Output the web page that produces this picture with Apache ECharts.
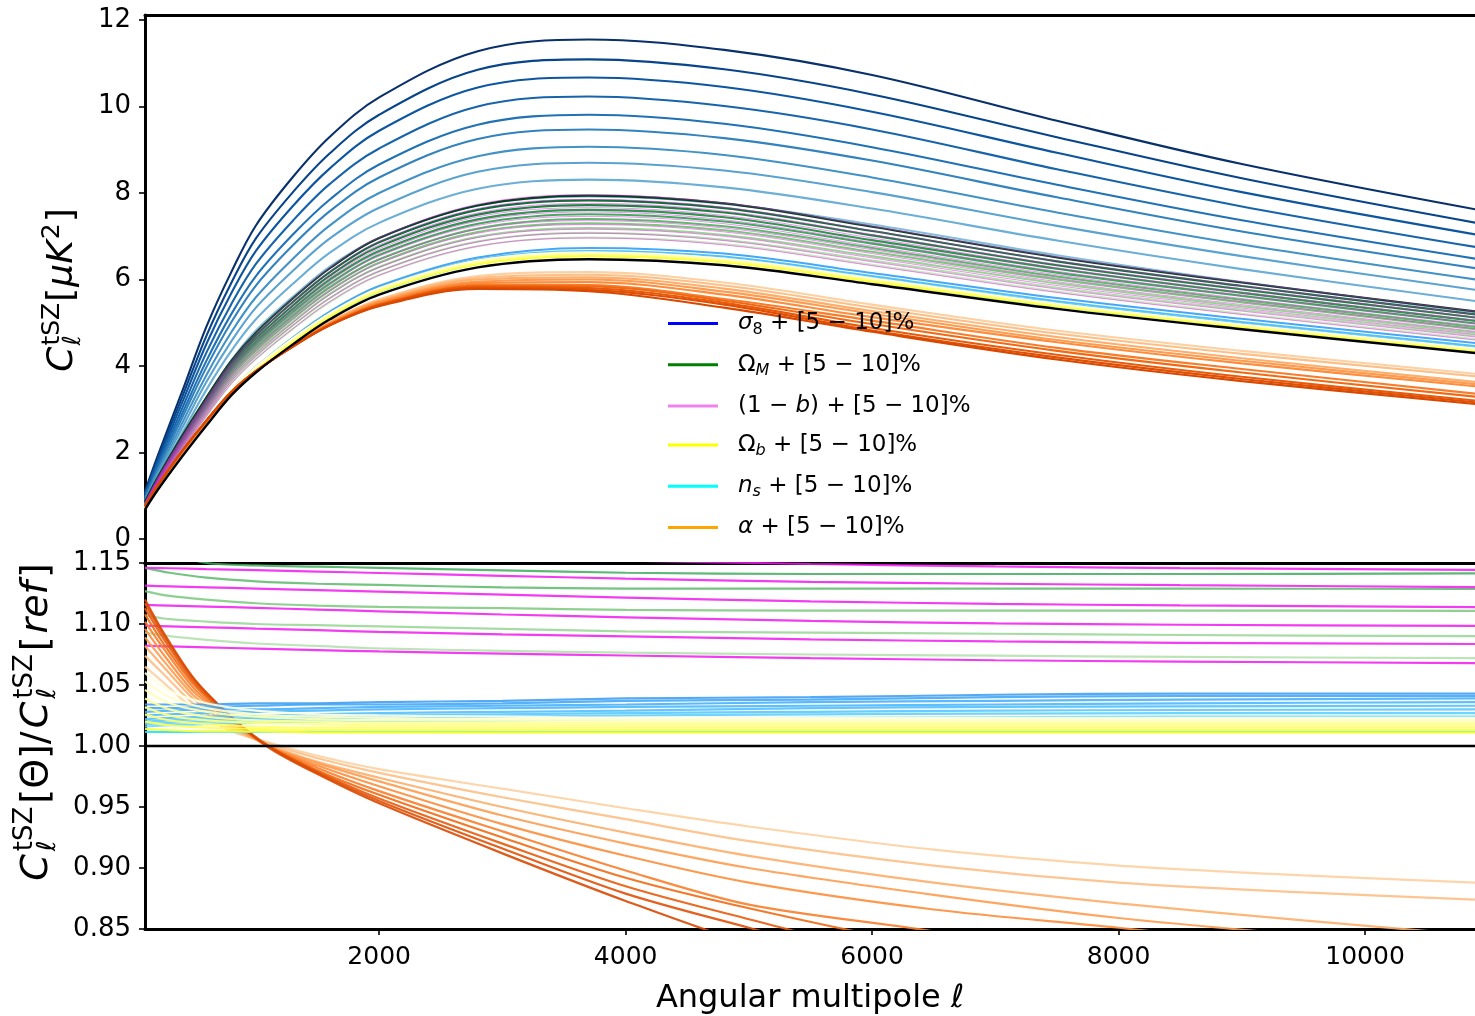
<!DOCTYPE html>
<html><head><meta charset="utf-8">
<script src="https://cdn.jsdelivr.net/npm/echarts@6/dist/echarts.min.js"></script>
<style>html,body{margin:0;padding:0;background:#fff}#c{width:1475px;height:1016px}</style>
</head><body><div id="c"></div>
<script>
// ---------- DATA ----------
// Upper panel: C_l^tSZ [muK^2]
const ELL_TOP = [100, 200, 400, 600, 800, 1000, 1300, 1600, 2000, 2800, 3700, 4800, 6000, 7500, 9000, 10900];
const REF_TOP = [0.68, 1.12, 1.90, 2.63, 3.32, 3.85, 4.50, 5.08, 5.65, 6.28, 6.47, 6.33, 5.89, 5.32, 4.85, 4.30];
const SIGMA8_TOP = [
  [1.10, 1.90, 3.40, 4.92, 6.17, 7.25, 8.37, 9.30, 10.21, 11.28, 11.55, 11.31, 10.73, 9.67, 8.67, 7.62],
  [1.06, 1.83, 3.27, 4.71, 5.92, 6.95, 8.02, 8.92, 9.81, 10.85, 11.09, 10.86, 10.28, 9.29, 8.34, 7.31],
  [1.03, 1.77, 3.14, 4.52, 5.68, 6.66, 7.70, 8.57, 9.44, 10.44, 10.67, 10.45, 9.88, 8.93, 8.02, 7.04],
  [0.99, 1.70, 3.01, 4.32, 5.43, 6.36, 7.36, 8.21, 9.03, 10.00, 10.23, 10.01, 9.47, 8.55, 7.69, 6.75],
  [0.96, 1.64, 2.89, 4.13, 5.20, 6.08, 7.04, 7.85, 8.66, 9.58, 9.81, 9.60, 9.06, 8.19, 7.37, 6.48],
  [0.93, 1.58, 2.79, 3.98, 5.01, 5.86, 6.79, 7.58, 8.36, 9.25, 9.47, 9.27, 8.75, 7.90, 7.11, 6.26],
  [0.90, 1.52, 2.67, 3.80, 4.78, 5.59, 6.48, 7.25, 8.00, 8.85, 9.07, 8.88, 8.36, 7.55, 6.81, 6.00],
  [0.87, 1.47, 2.56, 3.64, 4.57, 5.35, 6.20, 6.95, 7.66, 8.49, 8.70, 8.52, 8.02, 7.24, 6.54, 5.76],
  [0.83, 1.40, 2.44, 3.46, 4.35, 5.08, 5.90, 6.62, 7.31, 8.10, 8.31, 8.13, 7.64, 6.90, 6.24, 5.50],
  [0.80, 1.34, 2.33, 3.28, 4.13, 4.82, 5.60, 6.30, 6.96, 7.71, 7.92, 7.75, 7.27, 6.56, 5.94, 5.24]
];
const OMEGAM_TOP = [
  [0.74, 1.22, 2.07, 2.86, 3.60, 4.17, 4.86, 5.48, 6.10, 6.77, 6.97, 6.82, 6.34, 5.72, 5.21, 4.62],
  [0.76, 1.24, 2.10, 2.90, 3.66, 4.24, 4.94, 5.57, 6.19, 6.88, 7.08, 6.92, 6.44, 5.81, 5.30, 4.70],
  [0.77, 1.27, 2.14, 2.95, 3.72, 4.31, 5.02, 5.67, 6.29, 6.99, 7.19, 7.03, 6.54, 5.91, 5.38, 4.77],
  [0.78, 1.29, 2.17, 3.00, 3.78, 4.37, 5.10, 5.75, 6.39, 7.10, 7.30, 7.14, 6.64, 6.00, 5.47, 4.85],
  [0.79, 1.31, 2.20, 3.04, 3.83, 4.43, 5.17, 5.83, 6.47, 7.18, 7.40, 7.23, 6.73, 6.07, 5.53, 4.90],
  [0.81, 1.33, 2.24, 3.09, 3.89, 4.50, 5.25, 5.91, 6.57, 7.29, 7.51, 7.34, 6.83, 6.16, 5.62, 4.98],
  [0.82, 1.35, 2.27, 3.13, 3.94, 4.56, 5.32, 6.00, 6.66, 7.39, 7.61, 7.44, 6.91, 6.25, 5.69, 5.04],
  [0.83, 1.37, 2.31, 3.18, 4.00, 4.63, 5.40, 6.09, 6.76, 7.50, 7.72, 7.55, 7.02, 6.33, 5.77, 5.12],
  [0.85, 1.39, 2.34, 3.23, 4.06, 4.70, 5.48, 6.17, 6.86, 7.61, 7.83, 7.65, 7.12, 6.42, 5.85, 5.19],
  [0.86, 1.41, 2.38, 3.28, 4.12, 4.77, 5.56, 6.26, 6.96, 7.71, 7.94, 7.76, 7.22, 6.51, 5.93, 5.26]
];
const ONEMB_TOP = [
  [0.74, 1.21, 2.06, 2.85, 3.59, 4.16, 4.86, 5.49, 6.10, 6.77, 6.96, 6.80, 6.32, 5.70, 5.19, 4.60],
  [0.75, 1.23, 2.09, 2.89, 3.65, 4.23, 4.94, 5.57, 6.19, 6.87, 7.07, 6.90, 6.41, 5.78, 5.27, 4.67],
  [0.76, 1.25, 2.12, 2.93, 3.70, 4.28, 5.00, 5.65, 6.28, 6.97, 7.16, 7.00, 6.50, 5.86, 5.34, 4.73],
  [0.77, 1.27, 2.15, 2.97, 3.75, 4.35, 5.08, 5.73, 6.37, 7.07, 7.27, 7.10, 6.60, 5.95, 5.42, 4.80],
  [0.78, 1.28, 2.18, 3.01, 3.80, 4.40, 5.14, 5.80, 6.45, 7.16, 7.36, 7.19, 6.69, 6.03, 5.49, 4.86],
  [0.79, 1.30, 2.20, 3.05, 3.85, 4.46, 5.21, 5.88, 6.54, 7.25, 7.46, 7.29, 6.77, 6.11, 5.56, 4.93],
  [0.80, 1.32, 2.23, 3.09, 3.90, 4.52, 5.28, 5.96, 6.62, 7.35, 7.56, 7.38, 6.86, 6.19, 5.64, 4.99],
  [0.81, 1.33, 2.26, 3.13, 3.95, 4.58, 5.35, 6.04, 6.71, 7.45, 7.66, 7.48, 6.96, 6.27, 5.71, 5.06],
  [0.82, 1.35, 2.29, 3.17, 4.00, 4.64, 5.42, 6.11, 6.80, 7.54, 7.76, 7.58, 7.04, 6.35, 5.79, 5.13],
  [0.83, 1.37, 2.32, 3.21, 4.05, 4.70, 5.49, 6.19, 6.88, 7.64, 7.85, 7.67, 7.13, 6.43, 5.86, 5.19],
  [0.84, 1.39, 2.35, 3.25, 4.10, 4.76, 5.56, 6.27, 6.97, 7.74, 7.96, 7.77, 7.23, 6.52, 5.94, 5.26]
];
const NS_TOP = [
  [0.69, 1.13, 1.92, 2.66, 3.36, 3.90, 4.55, 5.14, 5.72, 6.36, 6.55, 6.41, 5.96, 5.38, 4.91, 4.35],
  [0.69, 1.14, 1.94, 2.68, 3.39, 3.93, 4.59, 5.19, 5.77, 6.42, 6.62, 6.48, 6.04, 5.46, 4.98, 4.42],
  [0.70, 1.15, 1.95, 2.70, 3.41, 3.95, 4.62, 5.22, 5.81, 6.46, 6.66, 6.53, 6.08, 5.50, 5.02, 4.46],
  [0.70, 1.16, 1.96, 2.72, 3.43, 3.98, 4.66, 5.26, 5.85, 6.51, 6.73, 6.60, 6.15, 5.57, 5.09, 4.53]
];
const OMEGAB_TOP = [
  [0.69, 1.14, 1.93, 2.66, 3.36, 3.90, 4.55, 5.14, 5.72, 6.35, 6.54, 6.40, 5.95, 5.38, 4.90, 4.35],
  [0.70, 1.15, 1.95, 2.69, 3.39, 3.92, 4.58, 5.17, 5.75, 6.38, 6.57, 6.43, 5.98, 5.41, 4.93, 4.37],
  [0.71, 1.16, 1.97, 2.71, 3.41, 3.95, 4.61, 5.20, 5.77, 6.41, 6.60, 6.46, 6.01, 5.43, 4.95, 4.39],
  [0.72, 1.18, 1.99, 2.74, 3.44, 3.98, 4.64, 5.22, 5.80, 6.44, 6.63, 6.48, 6.03, 5.44, 4.96, 4.40]
];
const ALPHA_TOP = [
  [0.72, 1.18, 1.97, 2.69, 3.36, 3.87, 4.48, 5.03, 5.54, 6.08, 6.17, 5.93, 5.42, 4.82, 4.35, 3.82],
  [0.73, 1.19, 1.98, 2.70, 3.37, 3.87, 4.48, 5.02, 5.53, 6.04, 6.11, 5.86, 5.35, 4.75, 4.28, 3.76],
  [0.74, 1.20, 1.99, 2.71, 3.37, 3.87, 4.47, 5.00, 5.50, 6.00, 6.05, 5.79, 5.27, 4.67, 4.18, 3.63],
  [0.74, 1.21, 2.00, 2.72, 3.38, 3.87, 4.47, 4.99, 5.49, 5.95, 6.00, 5.72, 5.21, 4.60, 4.12, 3.58],
  [0.75, 1.21, 2.01, 2.72, 3.39, 3.88, 4.46, 4.98, 5.46, 5.92, 5.94, 5.65, 5.13, 4.55, 4.06, 3.53],
  [0.75, 1.22, 2.01, 2.73, 3.39, 3.88, 4.46, 4.97, 5.44, 5.88, 5.87, 5.55, 5.05, 4.42, 3.93, 3.36],
  [0.75, 1.22, 2.02, 2.74, 3.39, 3.88, 4.46, 4.96, 5.42, 5.85, 5.84, 5.51, 4.97, 4.35, 3.85, 3.29],
  [0.76, 1.23, 2.03, 2.74, 3.40, 3.88, 4.45, 4.95, 5.41, 5.83, 5.80, 5.46, 4.88, 4.26, 3.75, 3.20],
  [0.76, 1.23, 2.03, 2.75, 3.40, 3.88, 4.45, 4.94, 5.40, 5.80, 5.76, 5.42, 4.82, 4.20, 3.70, 3.16],
  [0.76, 1.23, 2.03, 2.75, 3.40, 3.88, 4.45, 4.94, 5.38, 5.78, 5.73, 5.35, 4.79, 4.15, 3.65, 3.12]
];

// Lower panel: ratio C_l[Theta] / C_l[ref]
const ELL_RATIO = [100, 300, 600, 1000, 1500, 2000, 3000, 4000, 5500, 7000, 8500, 10900];
const OMEGAM_RATIO = [
  [1.165, 1.158, 1.150, 1.148, 1.147, 1.146, 1.144, 1.142, 1.141, 1.141, 1.141, 1.1415],
  [1.146, 1.142, 1.138, 1.135, 1.133, 1.132, 1.130, 1.129, 1.129, 1.129, 1.129, 1.1287],
  [1.127, 1.123, 1.120, 1.117, 1.115, 1.114, 1.113, 1.1115, 1.111, 1.111, 1.111, 1.1107],
  [1.107, 1.104, 1.102, 1.100, 1.099, 1.098, 1.096, 1.094, 1.093, 1.092, 1.091, 1.090],
  [1.093, 1.090, 1.087, 1.084, 1.082, 1.080, 1.078, 1.0765, 1.075, 1.074, 1.073, 1.072]
];
const ONEMB_RATIO = [
  [1.1610, 1.1605, 1.1598, 1.1589, 1.1578, 1.1566, 1.1543, 1.1520, 1.1492, 1.1472, 1.1458, 1.1443],
  [1.1461, 1.1457, 1.1450, 1.1441, 1.1430, 1.1418, 1.1395, 1.1372, 1.1345, 1.1330, 1.1318, 1.1303],
  [1.1314, 1.1309, 1.1301, 1.1290, 1.1278, 1.1265, 1.1240, 1.1216, 1.1185, 1.1165, 1.1152, 1.1139],
  [1.1156, 1.1151, 1.1143, 1.1132, 1.1118, 1.1104, 1.1078, 1.1055, 1.1025, 1.1005, 1.0994, 1.0984],
  [1.0986, 1.0981, 1.0973, 1.0962, 1.0949, 1.0936, 1.0915, 1.0898, 1.0874, 1.0857, 1.0846, 1.0836],
  [1.0822, 1.0817, 1.0809, 1.0798, 1.0786, 1.0775, 1.0757, 1.0742, 1.0720, 1.0703, 1.0692, 1.0680]
];
const NS_RATIO = [
  [1.0115, 1.0115, 1.0115, 1.0115, 1.0115, 1.0115, 1.0115, 1.0115, 1.0115, 1.0115, 1.0115, 1.0115],
  [1.016, 1.017, 1.018, 1.019, 1.020, 1.0205, 1.021, 1.022, 1.023, 1.0235, 1.024, 1.024],
  [1.018, 1.019, 1.020, 1.021, 1.022, 1.023, 1.024, 1.025, 1.026, 1.0265, 1.027, 1.027],
  [1.020, 1.021, 1.022, 1.023, 1.024, 1.025, 1.026, 1.027, 1.028, 1.029, 1.0295, 1.030],
  [1.022, 1.023, 1.024, 1.025, 1.026, 1.027, 1.028, 1.029, 1.031, 1.032, 1.0325, 1.033],
  [1.025, 1.026, 1.027, 1.028, 1.029, 1.030, 1.031, 1.032, 1.033, 1.034, 1.035, 1.036],
  [1.028, 1.029, 1.030, 1.030, 1.031, 1.032, 1.033, 1.034, 1.036, 1.037, 1.038, 1.039],
  [1.031, 1.031, 1.032, 1.033, 1.034, 1.034, 1.035, 1.037, 1.038, 1.040, 1.041, 1.041],
  [1.034, 1.034, 1.034, 1.035, 1.035, 1.036, 1.037, 1.039, 1.040, 1.042, 1.043, 1.043]
];
const OMEGAB_RATIO = [
  [1.014, 1.013, 1.012, 1.012, 1.011, 1.011, 1.011, 1.011, 1.011, 1.011, 1.011, 1.011],
  [1.020, 1.017, 1.015, 1.014, 1.013, 1.013, 1.013, 1.013, 1.013, 1.013, 1.013, 1.013],
  [1.026, 1.021, 1.018, 1.016, 1.015, 1.015, 1.015, 1.015, 1.015, 1.015, 1.015, 1.015],
  [1.032, 1.025, 1.021, 1.019, 1.018, 1.017, 1.017, 1.017, 1.017, 1.017, 1.017, 1.017],
  [1.039, 1.030, 1.024, 1.021, 1.020, 1.019, 1.019, 1.019, 1.019, 1.019, 1.019, 1.019],
  [1.046, 1.035, 1.028, 1.024, 1.022, 1.021, 1.021, 1.021, 1.021, 1.021, 1.021, 1.021],
  [1.053, 1.040, 1.031, 1.026, 1.024, 1.023, 1.022, 1.022, 1.022, 1.022, 1.022, 1.022],
  [1.060, 1.045, 1.035, 1.029, 1.026, 1.025, 1.024, 1.023, 1.023, 1.023, 1.023, 1.023]
];
const ELL_ALPHA = [100, 250, 500, 800, 1100, 1500, 2000, 3000, 4000, 5000, 6500, 8000, 9500, 10900];
const ALPHA_RATIO = [
  [1.065, 1.052, 1.030, 1.012, 1.003, 0.992, 0.981, 0.965, 0.949, 0.934, 0.915, 0.902, 0.894, 0.888],
  [1.074, 1.059, 1.034, 1.014, 1.002, 0.990, 0.978, 0.958, 0.940, 0.922, 0.902, 0.888, 0.880, 0.874],
  [1.082, 1.065, 1.038, 1.016, 1.001, 0.987, 0.974, 0.950, 0.929, 0.910, 0.888, 0.871, 0.857, 0.845],
  [1.089, 1.070, 1.041, 1.018, 1.000, 0.986, 0.971, 0.943, 0.920, 0.900, 0.878, 0.859, 0.845, 0.833],
  [1.096, 1.075, 1.044, 1.020, 1.000, 0.984, 0.967, 0.936, 0.910, 0.888, 0.866, 0.851, 0.835, 0.822],
  [1.102, 1.080, 1.047, 1.021, 1.000, 0.982, 0.963, 0.930, 0.898, 0.870, 0.848, 0.822, 0.800, 0.782],
  [1.108, 1.084, 1.050, 1.022, 1.000, 0.980, 0.960, 0.925, 0.892, 0.867, 0.835, 0.808, 0.785, 0.765],
  [1.113, 1.088, 1.052, 1.023, 1.000, 0.979, 0.957, 0.920, 0.885, 0.858, 0.820, 0.790, 0.765, 0.745],
  [1.117, 1.091, 1.054, 1.024, 1.000, 0.978, 0.955, 0.916, 0.879, 0.851, 0.810, 0.780, 0.755, 0.735],
  [1.120, 1.093, 1.055, 1.024, 0.999, 0.977, 0.953, 0.912, 0.873, 0.838, 0.800, 0.770, 0.745, 0.725]
];
const REF_RATIO = [1.0, 1.0];
const ELL_REF_RATIO = [100, 10900];

const TOP_Y_TICKS = [0, 2, 4, 6, 8, 10, 12];
const X_TICKS = [2000, 4000, 6000, 8000, 10000];
const LEGEND_NAMES = ['s8', 'omM', 'onemb', 'omb', 'ns', 'alpha'];

// ---------- STYLE ----------
const C_SIGMA8 = ['#08306b','#08448a','#0d559f','#1764ab','#2171b5','#3282be','#4292c6','#5aa2cf','#6baed6','#85bcdc'];
const C_OMM_TOP = ['#c7e9c0','#b0dfaa','#98d594','#7bc87c','#5db96b','#41ab5d','#2e964d','#1d843f','#0b7134','#00441b'];
const C_OMM_RAT = ['#41ab5d','#5db96b','#7bc87c','#98d594','#b0dfaa'];
const C_ALPHA = ['#fdd0a2','#fdbf86','#fdae6b','#fd9c51','#fd8d3c','#f87d2b','#f16913','#e85b0b','#df5005','#d94801'];
const C_NS_TOP = ['#22e0ff','#5fd0ff','#52c0ff','#45a8f7'];
const C_NS_RAT = ['#22e0ff','#66d9ff','#5fd0ff','#58c8ff','#52c0ff','#4cb8ff','#48b0fb','#45a8f7','#42a0f3'];
const C_OMB_TOP = ['#ffff33','#ffff66','#ffffa0','#ffffd0'];
const C_OMB_RAT = ['#ffff33','#ffff4d','#ffff66','#ffff80','#ffff99','#ffffb3','#ffffcc','#ffffe0'];
const C_MAG = '#ee1aee';
const FONT = 'DejaVu Sans';

const series = [];
function pts(xs, ys) { return xs.map((x, i) => [x, ys[i]]); }
function addLines(arr, xs, colors, width, panel, opacity, tag, smooth) {
  arr.forEach((ys, i) => series.push({
    type: 'line', name: tag + i, data: pts(xs, ys),
    xAxisIndex: panel === 0 ? 0 : 2, yAxisIndex: panel,
    symbol: 'none', showSymbol: false, smooth: smooth,
    silent: true, clip: true,
    lineStyle: { color: Array.isArray(colors) ? colors[i] : colors, width: width, opacity: opacity }
  }));
}
const ST = 0.35, SB = 0.3;
// upper panel
addLines(SIGMA8_TOP, ELL_TOP, C_SIGMA8, 2.1, 0, 1, 'sig8_', ST);
addLines(OMEGAM_TOP, ELL_TOP, C_OMM_TOP, 2.1, 0, 1, 'omm_', ST);
addLines(ONEMB_TOP, ELL_TOP, C_MAG, 1.0, 0, 0.5, 'onemb_', ST);
addLines(NS_TOP, ELL_TOP, C_NS_TOP, 2.0, 0, 1, 'ns_', ST);
addLines(OMEGAB_TOP, ELL_TOP, C_OMB_TOP, 2.0, 0, 1, 'omb_', ST);
addLines(ALPHA_TOP, ELL_TOP, C_ALPHA, 2.1, 0, 1, 'alp_', ST);
addLines([REF_TOP], ELL_TOP, '#000000', 2.4, 0, 1, 'ref_', ST);
// lower panel
addLines(OMEGAM_RATIO, ELL_RATIO, C_OMM_RAT, 2.2, 1, 0.85, 'rOmm_', SB);
addLines(ONEMB_RATIO, ELL_RATIO, C_MAG, 2.2, 1, 0.85, 'rOnemb_', SB);
addLines(ALPHA_RATIO, ELL_ALPHA, C_ALPHA, 2.2, 1, 0.9, 'rAlp_', SB);
addLines(NS_RATIO, ELL_RATIO, C_NS_RAT, 2.2, 1, 0.9, 'rNs_', SB);
addLines(OMEGAB_RATIO, ELL_RATIO, C_OMB_RAT, 2.2, 1, 0.9, 'rOmb_', SB);
addLines([REF_RATIO], ELL_REF_RATIO, '#000000', 2.4, 1, 1, 'rRef_', false);

// legend proxies
const LEG_COLORS = ['#0000ff', '#008000', '#ee82ee', '#ffff00', '#00ffff', '#ffa500'];
LEGEND_NAMES.forEach((n, i) => series.push({
  type: 'line', name: n, data: [], xAxisIndex: 0, yAxisIndex: 0,
  itemStyle: { color: LEG_COLORS[i] }, lineStyle: { color: LEG_COLORS[i] }
}));
const LEG_TEXT = {
  s8: '{sp| }{it|σ}{sub|8}{r| + [5 − 10]%}',
  omM: '{sp| }{r|Ω}{subi|M}{r| + [5 − 10]%}',
  onemb: '{sp| }{r|(1 − }{it|b}{r|) + [5 − 10]%}',
  omb: '{sp| }{r|Ω}{subi|b}{r| + [5 − 10]%}',
  ns: '{sp| }{it|n}{subi|s}{r| + [5 − 10]%}',
  alpha: '{sp| }{it|α}{r| + [5 − 10]%}'
};

// math-like axis titles
const mctx = document.createElement('canvas').getContext('2d');
function tw(t, s, it) { mctx.font = (it ? 'italic ' : '') + s + 'px "' + FONT + '"'; return mctx.measureText(t).width; }
function mathLabel(cx, cy, pieces, gap) {
  let cur = 0, prevX = 0; const kids = [];
  pieces.forEach(p => {
    const w = tw(p.t, p.s, p.i);
    const x = p.stack ? prevX : cur;
    kids.push({ x: x, y: p.dy || 0, t: p.t, s: p.s, i: p.i });
    if (p.stack) cur = Math.max(cur, x + w + gap); else { prevX = x; cur = x + w + gap; }
  });
  const L = cur - gap;
  return {
    type: 'group', x: cx, y: cy + L / 2, rotation: Math.PI / 2, silent: true,
    children: kids.map(k => ({
      type: 'text', x: k.x, y: k.y,
      style: { text: k.t, fontSize: k.s, fontFamily: FONT, fontStyle: k.i ? 'italic' : 'normal',
               fill: '#000', align: 'left', verticalAlign: 'middle', textAlign: 'left', textVerticalAlign: 'middle' }
    }))
  };
}
const BIG = 36, SM = 25;
const topTitle = mathLabel(63, 290, [
  { t: 'C', s: BIG, i: true }, { t: 'tSZ', s: SM, dy: -11 }, { t: 'ℓ', s: SM, i: true, dy: 10, stack: true },
  { t: '[', s: BIG }, { t: 'μK', s: BIG, i: true }, { t: '2', s: SM, dy: -11 }, { t: ']', s: BIG }
], 1);
const botTitle = mathLabel(37, 722, [
  { t: 'C', s: 38, i: true }, { t: 'tSZ', s: 26, dy: -12 }, { t: 'ℓ', s: 26, i: true, dy: 11, stack: true },
  { t: '[Θ]/', s: 38 }, { t: 'C', s: 38, i: true }, { t: 'tSZ', s: 26, dy: -12 }, { t: 'ℓ', s: 26, i: true, dy: 11, stack: true },
  { t: '[', s: 38 }, { t: 'ref', s: 38, i: true }, { t: ']', s: 38 }
], 3);

const axLine = { show: true, onZero: false, lineStyle: { color: '#000', width: 3 } };
const XMIN = 100, XMAX = 10892;

const option = {
  animation: false,
  backgroundColor: '#ffffff',
  grid: [
    { left: 145, top: 15, right: 0, height: 548 },
    { left: 145, top: 563, right: 0, height: 366 }
  ],
  xAxis: [
    { type: 'value', gridIndex: 0, min: XMIN, max: XMAX, position: 'bottom', axisLine: axLine,
      axisTick: { show: false }, axisLabel: { show: false }, splitLine: { show: false } },
    { type: 'value', gridIndex: 0, min: XMIN, max: XMAX, position: 'top', axisLine: axLine,
      axisTick: { show: false }, axisLabel: { show: false }, splitLine: { show: false } },
    { type: 'value', gridIndex: 1, min: XMIN, max: XMAX, position: 'bottom', axisLine: axLine,
      axisTick: { show: true, length: 6, lineStyle: { color: '#000', width: 1.6 }, customValues: X_TICKS },
      axisLabel: { margin: 16, customValues: X_TICKS, formatter: v => String(v), fontFamily: FONT, fontSize: 25, color: '#000' },
      splitLine: { show: false },
      name: 'Angular multipole {l|ℓ}', nameLocation: 'middle', nameGap: 54,
      nameTextStyle: { fontFamily: FONT, fontSize: 32, color: '#000', rich: { l: { fontFamily: FONT, fontSize: 32, fontStyle: 'italic', color: '#000' } } } },
    { type: 'value', gridIndex: 1, min: XMIN, max: XMAX, position: 'top', axisLine: axLine,
      axisTick: { show: false }, axisLabel: { show: false }, splitLine: { show: false } }
  ],
  yAxis: [
    { type: 'value', gridIndex: 0, min: -0.555, max: 12.116, axisLine: axLine,
      axisTick: { show: true, length: 6, lineStyle: { color: '#000', width: 1.6 }, customValues: TOP_Y_TICKS },
      axisLabel: { margin: 14, customValues: TOP_Y_TICKS, formatter: v => String(v), fontFamily: FONT, fontSize: 26, color: '#000' },
      splitLine: { show: false } },
    { type: 'value', gridIndex: 1, min: 0.85, max: 1.15, interval: 0.05, axisLine: axLine,
      axisTick: { show: true, length: 6, lineStyle: { color: '#000', width: 1.6 } },
      axisLabel: { margin: 14, formatter: v => v.toFixed(2), fontFamily: FONT, fontSize: 26, color: '#000' },
      splitLine: { show: false } }
  ],
  legend: {
    data: LEGEND_NAMES, orient: 'vertical', left: 668, top: 312, padding: 0,
    icon: 'rect', itemWidth: 50, itemHeight: 3, itemGap: 15.8, selectedMode: false,
    formatter: n => LEG_TEXT[n],
    textStyle: {
      fontFamily: FONT, fontSize: 23, color: '#000',
      rich: {
        sp: { width: 15, fontSize: 23, lineHeight: 28 },
        r: { fontFamily: FONT, fontSize: 23, lineHeight: 28, color: '#000' },
        it: { fontFamily: FONT, fontSize: 23, fontStyle: 'italic', lineHeight: 28, color: '#000' },
        sub: { fontFamily: FONT, fontSize: 16, lineHeight: 16, verticalAlign: 'bottom', color: '#000' },
        subi: { fontFamily: FONT, fontSize: 16, fontStyle: 'italic', lineHeight: 16, verticalAlign: 'bottom', color: '#000' }
      }
    }
  },
  graphic: [topTitle, botTitle],
  series: series
};
const chart = echarts.init(document.getElementById('c'), null, { renderer: 'canvas' });
chart.setOption(option);
</script>
</body></html>
